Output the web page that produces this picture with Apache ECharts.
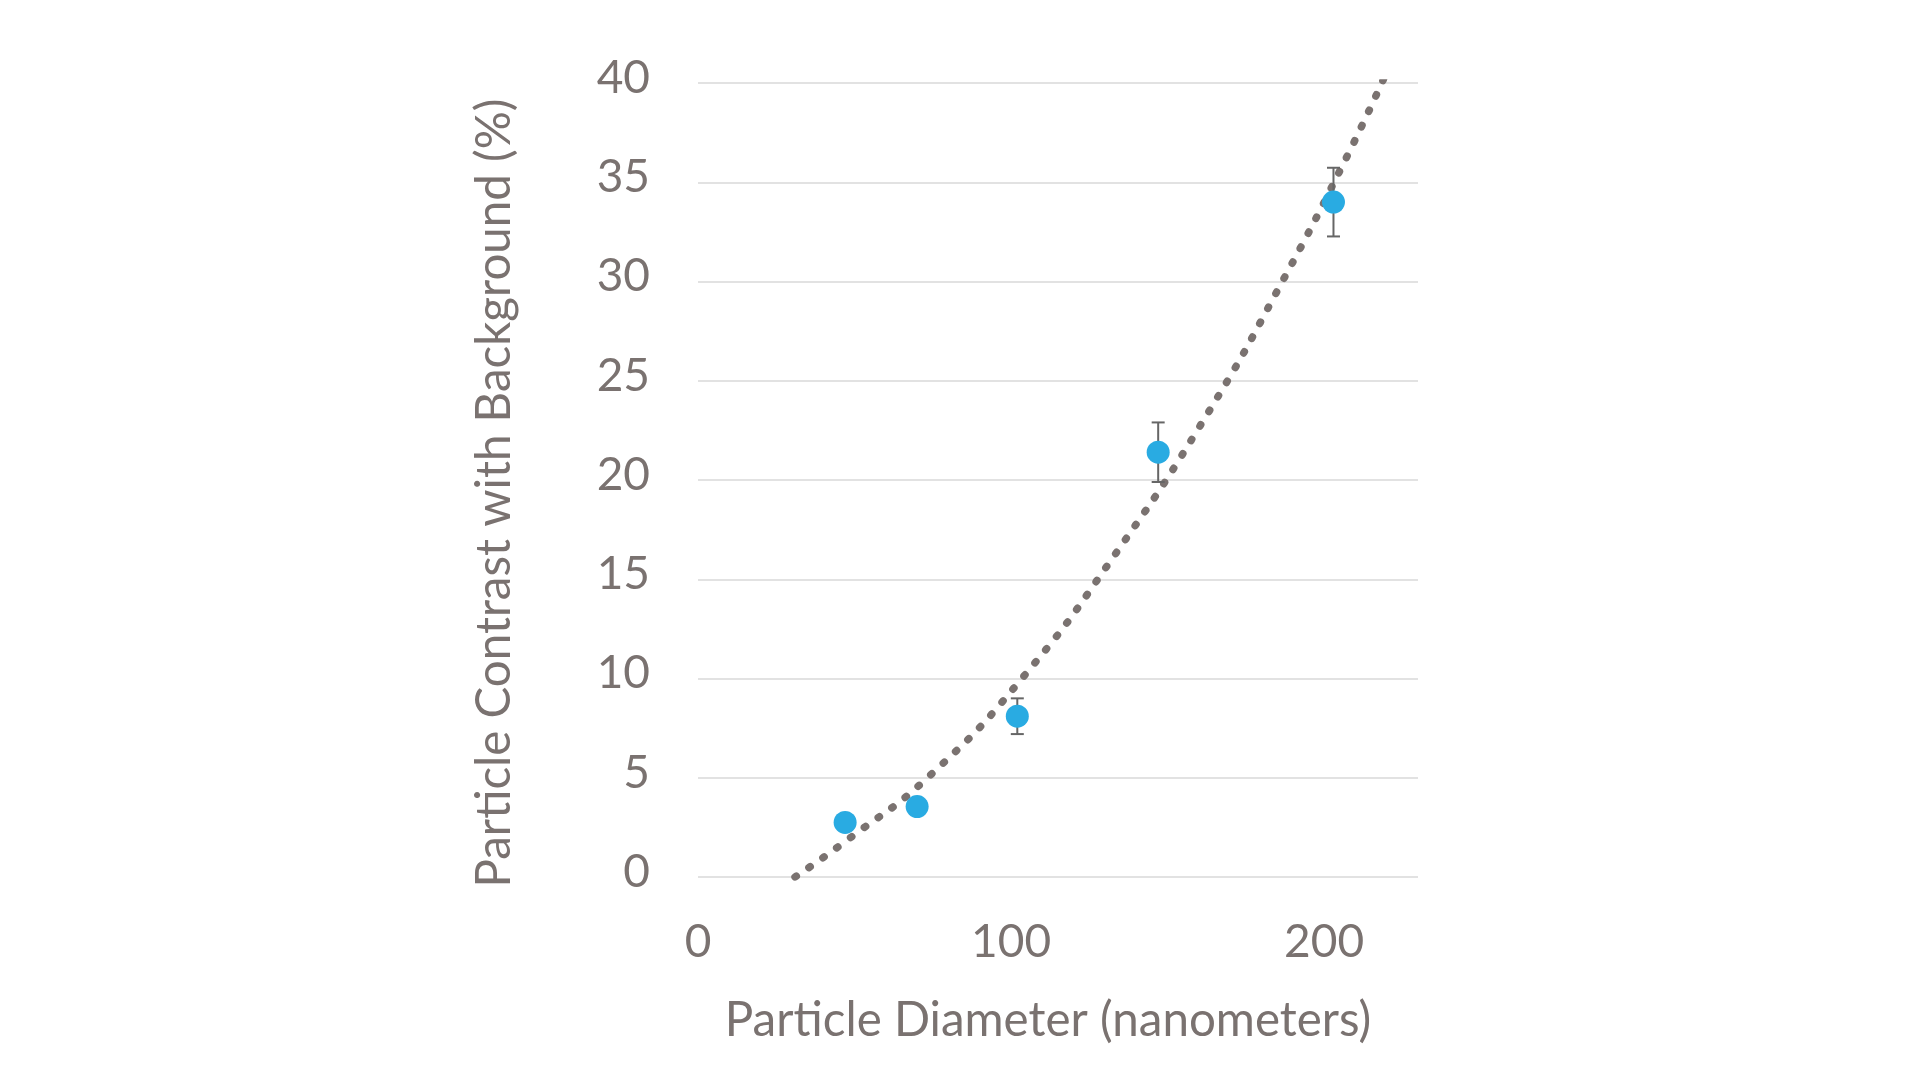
<!DOCTYPE html>
<html>
<head>
<meta charset="utf-8">
<script src="https://cdn.jsdelivr.net/npm/echarts@6/dist/echarts.min.js"></script>
<style>
html,body{margin:0;padding:0;background:#fff;}
#c{width:1920px;height:1080px;}
</style>
</head>
<body>
<div id="c"></div>
<script>
// Measured particles
var diameters = [47, 70, 102, 147, 203];
var contrast = [2.75, 3.55, 8.1, 21.4, 34.0];
var errors = [0, 0, 0.9, 1.5, 1.73];
// Trendline
var trendX = [31, 48, 74, 104, 133, 163, 187, 207, 219];
var trendY = [0, 1.9, 5.1, 10.1, 16.2, 23.4, 30.1, 36.2, 40.2];
// Axis labels
var xTitle = 'Particle Diameter (nanometers)';
var yTitle = 'Particle Contrast with Background (%)';

var textColor = '#7a7270';
var fontFam = 'Lato, "Open Sans", sans-serif';

var pts = diameters.map(function (d, i) { return [d, contrast[i]]; });
var errData = diameters.map(function (d, i) { return [d, contrast[i] - errors[i], contrast[i] + errors[i]]; })
  .filter(function (r, i) { return errors[i] > 0; });
var trend = trendX.map(function (x, i) { return [x, trendY[i]]; });

var chart = echarts.init(document.getElementById('c'));
chart.setOption({
  backgroundColor: '#fff',
  animation: false,
  grid: { left: 698, right: 502, top: 83, bottom: 203, containLabel: false },
  xAxis: {
    type: 'value', min: 0, max: 230, interval: 100,
    name: xTitle, nameLocation: 'middle', nameGap: 120,
    nameTextStyle: { color: textColor, fontSize: 47.5, fontFamily: fontFam, padding: [0, 20, 0, 0] },
    axisLine: { show: false }, axisTick: { show: false }, splitLine: { show: false },
    axisLabel: { color: textColor, fontSize: 46, fontFamily: fontFam, margin: 42, showMaxLabel: false }
  },
  yAxis: {
    type: 'value', min: 0, max: 40, interval: 5,
    name: yTitle, nameLocation: 'middle', nameGap: 179, nameRotate: 90,
    nameTextStyle: { color: textColor, fontSize: 47.5, fontFamily: fontFam, padding: [0, 26, 0, 0] },
    axisLine: { show: false }, axisTick: { show: false },
    splitLine: { show: true, lineStyle: { color: '#d9d9d9', width: 1.5 } },
    axisLabel: { color: textColor, fontSize: 46, fontFamily: fontFam, margin: 48, verticalAlign: 'bottom', lineHeight: 10 }
  },
  series: [
    {
      type: 'line', data: trend, smooth: true, symbol: 'none', z: 2,
      lineStyle: { color: '#7a7270', width: 7.5, type: [1.5, 15.5], cap: 'round' }
    },
    {
      type: 'custom', data: errData, z: 3,
      renderItem: function (params, api) {
        var x = api.value(0);
        var lo = api.coord([x, api.value(1)]);
        var hi = api.coord([x, api.value(2)]);
        var hw = 6.5;
        var st = { stroke: '#666666', lineWidth: 2 };
        return {
          type: 'group',
          children: [
            { type: 'line', shape: { x1: lo[0], y1: lo[1], x2: hi[0], y2: hi[1] }, style: st },
            { type: 'line', shape: { x1: lo[0] - hw, y1: lo[1], x2: lo[0] + hw, y2: lo[1] }, style: st },
            { type: 'line', shape: { x1: hi[0] - hw, y1: hi[1], x2: hi[0] + hw, y2: hi[1] }, style: st }
          ]
        };
      }
    },
    {
      type: 'scatter', data: pts, symbol: 'circle', symbolSize: 23, z: 4,
      itemStyle: { color: '#29abe2', opacity: 1 }
    }
  ]
});
</script>
</body>
</html>
